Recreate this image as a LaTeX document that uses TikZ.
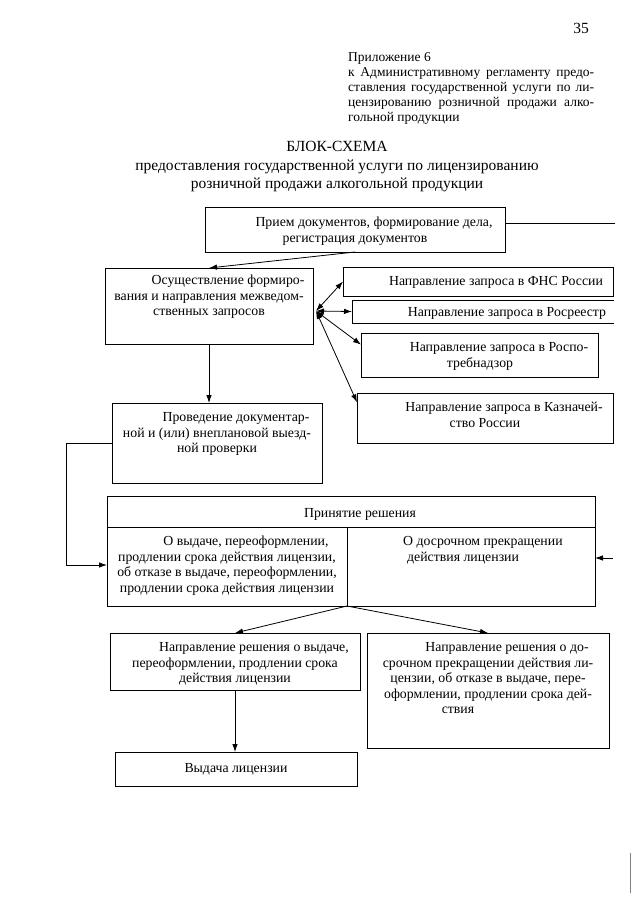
\documentclass[tikz,border=0pt]{standalone}
\usepackage{fontspec}
\setmainfont{Liberation Serif}
\usetikzlibrary{arrows.meta,calc}
\newcommand\BoxFont{\fontsize{13.8}{15.5}\selectfont}
\newcommand\HeadFont{\fontsize{13.5}{15}\selectfont}
\newcommand\TitleFont{\fontsize{15.5}{18.5}\selectfont}
\newcommand\NumFont{\fontsize{15.5}{18}\selectfont}
\begin{document}
\begin{tikzpicture}[x=1pt,y=-1pt,
  box/.style={draw, line width=0.8pt, inner sep=0pt, outer sep=0pt},
  openbox/.style={inner sep=0pt, outer sep=0pt},
  txt/.style={inner sep=0pt, align=center, font=\BoxFont, anchor=north},
  ln/.style={line width=0.8pt},
  arr/.style={line width=0.8pt, -{Latex[length=8pt,width=5.5pt]}},
  darr/.style={line width=0.8pt, {Latex[length=8pt,width=5.5pt]}-{Latex[length=8pt,width=5.5pt]}}]
\useasboundingbox (0,0) rectangle (640,905);
\fill[white] (0,0) rectangle (640,905);

% page number and header
\node[font=\NumFont, inner sep=0pt] (pg) at (581,28) {35};
\node[anchor=north west, inner sep=0pt, text width=246pt, align=justify, font=\HeadFont] (hdr) at (348,51)
  {\strut Приложение 6\\к Административному регламенту предо-\linebreak ставления государственной услуги по ли-\linebreak цензированию розничной продажи алко-\linebreak гольной продукции};
\node[anchor=north, inner sep=0pt, align=center, font=\TitleFont] (ttl) at (337,138.5)
  {\strut БЛОК-СХЕМА\\предоставления государственной услуги по лицензированию\\розничной продажи алкогольной продукции};

% boxes
\node[box, minimum width=300pt, minimum height=45pt] (b1) at (355,229.5) {};
\node[box, minimum width=208pt, minimum height=76pt] (b2) at (209,306) {};
\node[box, minimum width=270pt, minimum height=29pt] (r1) at (478,281.5) {};
\node[openbox, minimum width=262pt, minimum height=23pt] (r2) at (483,311.5) {};
\draw[ln] (r2.north east) -- (r2.north west) -- (r2.south west) -- (r2.south east);
\node[box, minimum width=237pt, minimum height=44pt] (r3) at (479.5,355) {};
\node[box, minimum width=256pt, minimum height=50pt] (r4) at (485,418) {};
\node[box, minimum width=210pt, minimum height=80pt] (b3) at (217,443) {};
\node[box, minimum width=488pt, minimum height=110pt] (dec) at (351,551) {};
\node[box, minimum width=250pt, minimum height=57pt] (bl) at (235,661.5) {};
\node[box, minimum width=242pt, minimum height=115pt] (br) at (488,690.5) {};
\node[box, minimum width=242pt, minimum height=34pt] (iss) at (236,769) {};

% decision box inner lines
\draw[ln] (dec.west |- 0,527) -- (dec.east |- 0,527);
\coordinate (divT) at (347,527);
\coordinate (divB) at (dec.south -| divT);
\draw[ln] (divT) -- (divB);

% texts
\node[txt] (b1t) at (355,215.5) {\strut\hspace*{38pt}Прием документов, формирование дела,\\регистрация документов};
\node[txt] (b2t) at (209,273.5) {\strut\hspace*{38pt}Осуществление формиро-\\вания и направления межведом-\\ственных запросов};
\node[txt] (r1t) at (496,274.5) {\strut Направление запроса в ФНС России};
\node[txt] (r2t) at (507,305.5) {\strut Направление запроса в Росреестр};
\node[txt] (r3t) at (480,340.5) {\strut\hspace*{38pt}Направление запроса в Роспо-\\требнадзор};
\node[txt] (r4t) at (485,400.5) {\strut\hspace*{38pt}Направление запроса в Казначей-\\ство России};
\node[txt] (b3t) at (217,410.5) {\strut\hspace*{38pt}Проведение документар-\\ной и (или) внеплановой выезд-\\ной проверки};
\node[txt] (dech) at (360,506.5) {\strut Принятие решения};
\node[txt] (decl) at (227,534.5) {\strut\hspace*{38pt}О выдаче, переоформлении,\\продлении срока действия лицензии,\\об отказе в выдаче, переоформлении,\\продлении срока действия лицензии};
\node[txt, anchor=north west, align=left] (decr) at (403,534.5) {\strut О досрочном прекращении\\\hspace*{4pt}действия лицензии};
\node[txt] (blt) at (235,640.5) {\strut\hspace*{38pt}Направление решения о выдаче,\\переоформлении, продлении срока\\действия лицензии};
\node[txt] (brt) at (488,640.5) {\strut\hspace*{38pt}Направление решения о до-\\срочном прекращении действия ли-\\цензии, об отказе в выдаче, пере-\\оформлении, продлении срока дей-\\ствия\hspace*{60pt}};
\node[txt] (isst) at (236,761.5) {\strut Выдача лицензии};

% connectors
\draw[arr] (b1.south) -- (b2.north);
\coordinate (tr) at (615,223);
\draw[ln] (tr -| b1.east) -- (tr);
\coordinate (rin) at (613,558);
\draw[arr] (rin) -- (rin -| dec.east);
\coordinate (hub) at (316,311);
\draw[darr] (hub) -- (r1.west);
\draw[darr] (hub) -- (r2.west);
\draw[darr] (hub) -- (r3.175);
\draw[darr] (hub) -- (r4.173);
\draw[arr] (b2.south) -- (b2.south |- b3.north);
\coordinate (lx) at (66,565);
\draw[arr] (b3.west) -| (lx) -- (lx -| dec.west);
\draw[arr] (divB) -- (bl.north);
\draw[arr] (divB) -- (br.north);
\draw[arr] (bl.south) -- (bl.south |- iss.north);

% scan edge mark
\draw[gray, line width=1pt] (630,853) -- (630,893);
\end{tikzpicture}
\end{document}
